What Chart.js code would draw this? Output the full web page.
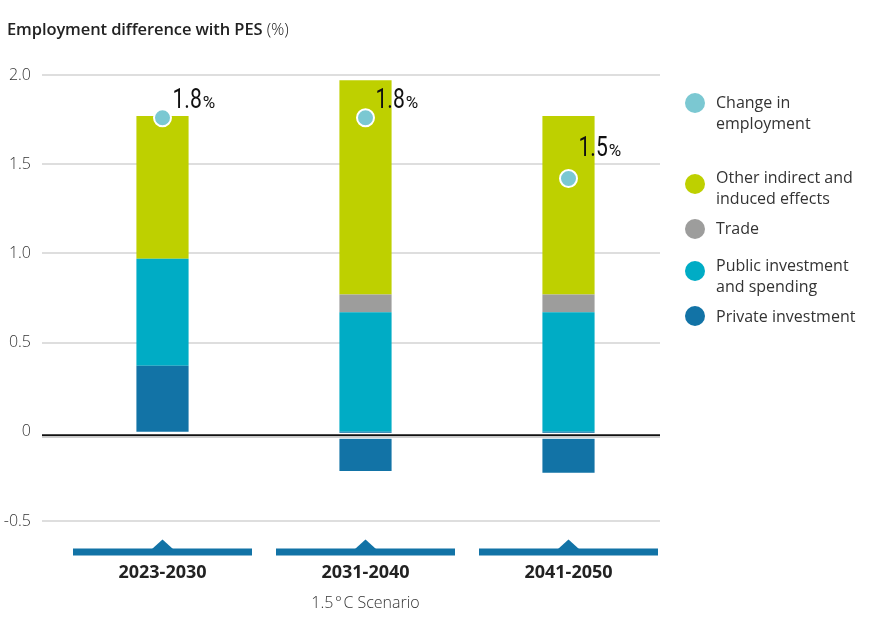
<!DOCTYPE html>
<html>
<head>
<meta charset="utf-8">
<script src="https://cdn.jsdelivr.net/npm/chart.js@4.4.1/dist/chart.umd.min.js"></script>
<style>
  html, body { margin: 0; padding: 0; background: #fff; }
  #wrap { position: relative; width: 870px; height: 635px; font-family: "Open Sans", sans-serif; color: #333; }
  #chart { position: absolute; left: 0; top: 0; }
  #title { position: absolute; left: 7px; top: 17px; font-size: 16.5px; font-weight: 600; color: #222; white-space: nowrap; letter-spacing: -0.1px; }
  #title span { font-weight: 300; }
  .item { position: absolute; left: 685px; }
  .dot { position: absolute; left: 0; width: 20px; height: 20px; border-radius: 50%; }
  .txt { position: absolute; left: 31px; top: 0; font-size: 16px; line-height: 20.5px; white-space: nowrap; color: #333; }
</style>
</head>
<body>
<div id="wrap">
  <canvas id="chart" width="870" height="635"></canvas>
  <div id="title">Employment difference with PES <span>(%)</span></div>
  <div id="legend"></div>
</div>
<script>
// data
const periods = ['2023-2030', '2031-2040', '2041-2050']
const scenario = '1.5\u200a°\u200aC Scenario'
const privateInv = [0.37, -0.22, -0.23]
const publicInv = [0.60, 0.67, 0.67]
const trade = [0, 0.10, 0.10]
const otherEffects = [0.80, 1.20, 1.00]
const changeEmployment = [1.76, 1.76, 1.42]
const changeLabels = ['1.8%', '1.8%', '1.5%']
const yTicks = [-0.5, 0, 0.5, 1.0, 1.5, 2.0]

const colors = {
    change: '#7bc8d2',
    other: '#bed000',
    trade: '#9d9d9c',
    public: '#00acc5',
    private: '#1273a6'
}

// legend (top to bottom as in the picture)
const legendNames = [['Change in', 'employment'], ['Other indirect and', 'induced effects'], ['Trade'], ['Public investment', 'and spending'], ['Private investment']]
const legendColors = [colors.change, colors.other, colors.trade, colors.public, colors.private]
const legendTextTop = [92, 167, 218, 255, 306]
const legendDotTop = [93, 174, 219, 261, 306]

const legend = document.getElementById('legend')
legendNames.forEach((lines, i) => {
    const item = document.createElement('div')
    item.className = 'item'
    item.style.top = legendTextTop[i] + 'px'
    const dot = document.createElement('div')
    dot.className = 'dot'
    dot.style.background = legendColors[i]
    dot.style.top = (legendDotTop[i] - legendTextTop[i]) + 'px'
    const txt = document.createElement('div')
    txt.className = 'txt'
    txt.innerHTML = lines.join('<br>')
    item.appendChild(dot)
    item.appendChild(txt)
    legend.appendChild(item)
})

const labelOffsetY = [-10, -10, -22]

const decor = {
    id: 'decor',
    beforeDatasetsDraw(chart) {
        const { ctx, chartArea, scales: { y } } = chart
        const left = chartArea.left - 19
        const right = chartArea.right - 10
        ctx.save()
        ctx.strokeStyle = '#dedede'
        ctx.lineWidth = 2
        y.ticks.forEach(t => {
            if (t.value === 0) return
            const py = Math.round(y.getPixelForValue(t.value))
            ctx.beginPath()
            ctx.moveTo(left, py)
            ctx.lineTo(right, py)
            ctx.stroke()
        })
        ctx.restore()
    },
    afterDatasetsDraw(chart) {
        const { ctx, chartArea, scales: { x, y } } = chart
        const left = chartArea.left - 19
        const right = chartArea.right - 10
        const y0 = y.getPixelForValue(0)
        ctx.save()
        // zero line
        ctx.fillStyle = '#fff'
        ctx.fillRect(left, y0 + 1, right - left, 6)
        ctx.strokeStyle = '#111'
        ctx.lineWidth = 2
        ctx.beginPath(); ctx.moveTo(left, y0 + 3.5); ctx.lineTo(right, y0 + 3.5); ctx.stroke()
        ctx.strokeStyle = '#cfcfcf'
        ctx.lineWidth = 1.5
        ctx.beginPath(); ctx.moveTo(left, y0 + 5.5); ctx.lineTo(right, y0 + 5.5); ctx.stroke()

        // blue period bands under the axis
        const half = x.width / periods.length / 2 - 12
        const bandY = chartArea.bottom + 27.5
        ctx.fillStyle = colors.private
        periods.forEach((p, i) => {
            const cx = x.getPixelForValue(i)
            ctx.fillRect(cx - half, bandY, half * 2, 7)
            ctx.beginPath()
            ctx.moveTo(cx - 10.5, bandY + 0.5)
            ctx.lineTo(cx, bandY - 9)
            ctx.lineTo(cx + 10.5, bandY + 0.5)
            ctx.closePath()
            ctx.fill()
        })

        // value labels next to the points
        const meta = chart.getDatasetMeta(0)
        ctx.fillStyle = '#111'
        ctx.textBaseline = 'alphabetic'
        meta.data.forEach((pt, i) => {
            const label = changeLabels[i]
            const num = label.slice(0, -1)
            const unit = label.slice(-1)
            const lx = pt.x + 10
            const ly = pt.y + labelOffsetY[i]
            ctx.save()
            ctx.translate(lx, ly)
            ctx.scale(0.78, 1)
            ctx.font = '400 27px Roboto'
            ctx.fillText(num, 0, 0)
            const w = ctx.measureText(num).width
            ctx.restore()
            ctx.font = '400 17px Roboto'
            ctx.fillText(unit, lx + w * 0.78 + 1, ly)
        })
        ctx.restore()
    }
}

new Chart(document.getElementById('chart').getContext('2d'), {
    type: 'bar',
    data: {
        labels: periods,
        datasets: [
            {
                type: 'line',
                label: 'Change in employment',
                data: changeEmployment,
                stack: 'points',
                showLine: false,
                pointRadius: 8.5,
                pointHoverRadius: 8.5,
                pointBackgroundColor: colors.change,
                pointBorderColor: '#fff',
                pointBorderWidth: 2
            },
            { label: 'Private investment', data: privateInv, backgroundColor: colors.private, stack: 'bars' },
            { label: 'Public investment and spending', data: publicInv, backgroundColor: colors.public, stack: 'bars' },
            { label: 'Trade', data: trade, backgroundColor: colors.trade, stack: 'bars' },
            { label: 'Other indirect and induced effects', data: otherEffects, backgroundColor: colors.other, stack: 'bars' }
        ]
    },
    options: {
        responsive: false,
        animation: false,
        layout: { padding: { top: 75, right: 200, left: 0, bottom: 0 } },
        datasets: { bar: { barPercentage: 0.257, categoryPercentage: 1 } },
        plugins: {
            legend: { display: false },
            tooltip: { enabled: false }
        },
        scales: {
            x: {
                stacked: true,
                border: { display: false },
                grid: { display: false, drawTicks: false },
                ticks: {
                    padding: 41,
                    color: '#222',
                    font: { family: 'Open Sans', size: 18, weight: 700 }
                },
                title: {
                    display: true,
                    text: scenario,
                    color: '#333',
                    font: { family: 'Open Sans', size: 16, weight: 300 },
                    padding: { top: 0, bottom: 22 }
                },
                afterFit(scale) { scale.height = 114 }
            },
            y: {
                stacked: true,
                min: yTicks[0],
                max: yTicks[yTicks.length - 1],
                border: { display: false },
                grid: { display: false, drawTicks: false },
                afterBuildTicks(scale) { scale.ticks = yTicks.map(v => ({ value: v })) },
                ticks: {
                    padding: 30,
                    color: '#333',
                    font: { family: 'Open Sans', size: 16, weight: 300 },
                    callback: v => v === 0 ? '0' : v.toFixed(1)
                },
                afterFit(scale) { scale.width = 61 }
            }
        }
    },
    plugins: [decor]
})
</script>
</body>
</html>
